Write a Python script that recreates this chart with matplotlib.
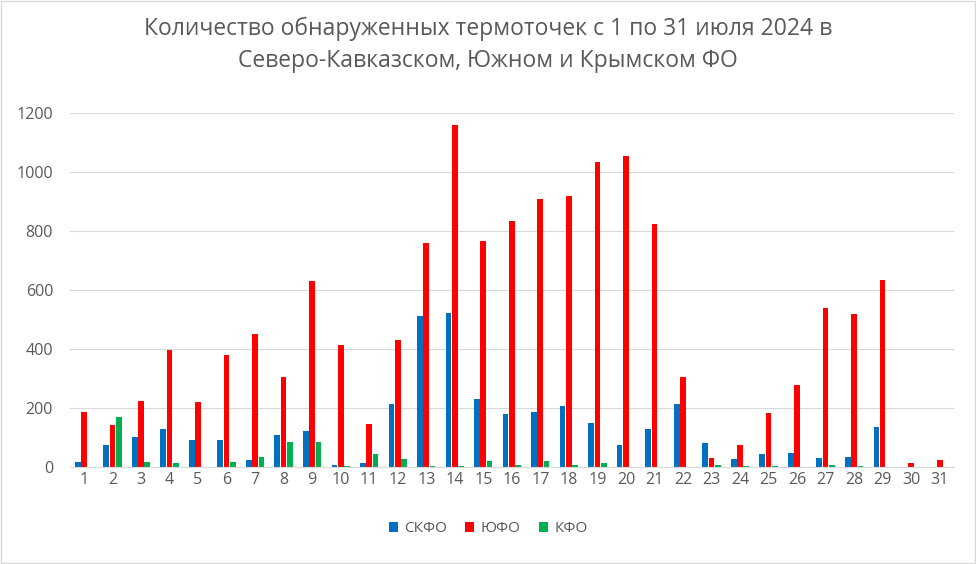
import numpy as np
import matplotlib.pyplot as plt

days = [str(d) for d in range(1, 32)]
skfo = [18, 75, 103, 130, 90, 90, 25, 107, 123, 8, 12, 212, 510, 522, 232, 178, 185, 208, 148, 75, 130, 215, 80, 28, 45, 48, 32, 35, 137, 0, 0]
yufo = [188, 143, 222, 395, 220, 378, 450, 305, 630, 412, 145, 430, 758, 1158, 765, 833, 907, 918, 1035, 1053, 822, 305, 30, 75, 182, 277, 538, 520, 635, 12, 25]
kfo = [0, 168, 18, 15, 0, 18, 35, 83, 83, 3, 45, 28, 5, 5, 20, 8, 20, 8, 13, 0, 0, 0, 8, 5, 5, 0, 8, 5, 0, 0, 0]

plt.rcParams["font.family"] = "Open Sans"
fig = plt.figure(figsize=(9.76, 5.64), dpi=100)
ax = fig.add_axes([0.0714, 0.172, 0.906, 0.628])

x = np.arange(len(days))
w = 0.2
ax.bar(x - w * 1.1, skfo, w, color="#0070C0", label="СКФО")
ax.bar(x, yufo, w, color="#FF0000", label="ЮФО")
ax.bar(x + w * 1.1, kfo, w, color="#00B050", label="КФО")

ax.set_xlim(-0.5, len(days) - 0.5)
ax.set_ylim(0, 1200)
ax.set_yticks(range(0, 1201, 200))
ax.set_xticks(x)
ax.set_xticklabels(days)
ax.tick_params(length=0, labelsize=11.5, colors="#595959")
ax.tick_params(axis="y", pad=12)
ax.grid(axis="y", color="#D9D9D9", lw=0.8)
ax.set_axisbelow(True)
for s in ["top", "right", "left"]:
    ax.spines[s].set_visible(False)
ax.spines["bottom"].set_color("#D9D9D9")

fig.suptitle("Количество обнаруженных термоточек с 1 по 31 июля 2024 в\nСеверо-Кавказском, Южном и Крымском ФО",
             y=0.97, fontsize=16.5, color="#595959", linespacing=1.4)
fig.legend(loc="lower center", ncol=3, frameon=False, fontsize=11,
           bbox_to_anchor=(0.5, 0.025), handlelength=0.6, handleheight=0.6,
           handletextpad=0.4, labelcolor="#595959", columnspacing=1.2)
fig.patches.append(plt.Rectangle((0.001, 0.001), 0.998, 0.998, transform=fig.transFigure,
                                 fill=False, edgecolor="#D9D9D9", lw=1))
fig.savefig("out.png", dpi=100)
